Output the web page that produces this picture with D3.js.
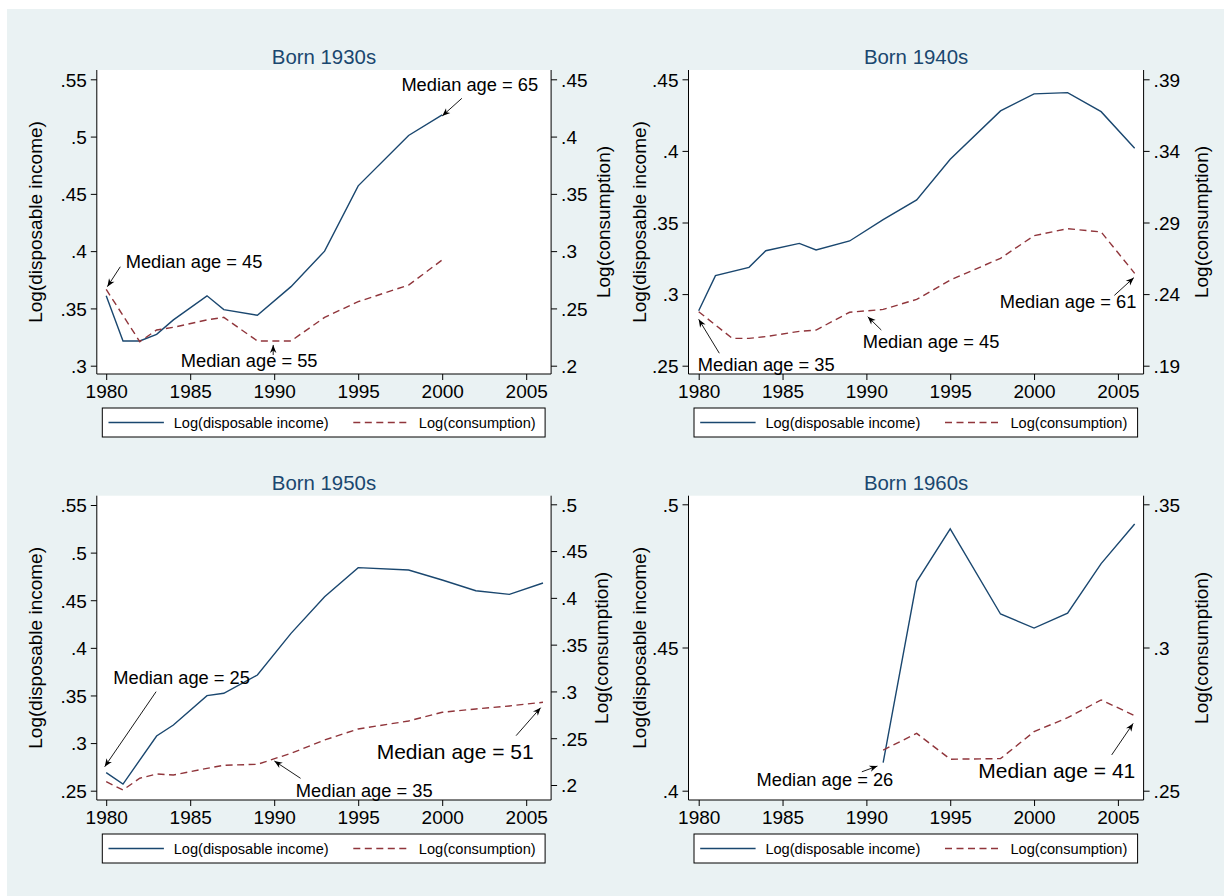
<!DOCTYPE html>
<html>
<head>
<meta charset="utf-8">
<script src="https://cdn.jsdelivr.net/npm/d3@7"></script>
<style>
  body { margin: 0; background: #ffffff; }
  text { font-family: "Liberation Sans", Arial, sans-serif; }
</style>
</head>
<body>
<div id="chart"></div>
<script>
// --- data ---
const xTicks = [1980, 1985, 1990, 1995, 2000, 2005];

// Born 1930s
const years30 = [1980, 1981, 1982, 1983, 1984, 1986, 1987, 1989, 1991, 1993, 1995, 1998, 2000];
const income30 = [.361, .3216, .3216, .3274, .340, .361, .349, .344, .369, .400, .457, .501, .519];
const consYears30 = [1980, 1982, 1983, 1984, 1986, 1987, 1989, 1991, 1993, 1995, 1998, 2000];
const cons30 = [.2666, .221, .2312, .2335, .240, .2422, .2216, .2216, .2422, .2559, .2704, .2923];
const leftTicks30 = [.3, .35, .4, .45, .5, .55];
const rightTicks30 = [.2, .25, .3, .35, .4, .45];
// label, text x, text y, arrow from x, y, arrow to x, y (data units, left axis)
const notes30 = [
    ["Median age = 45", 1981.16, .3853, 1980.84, .3864, 1980.07, .369],
    ["Median age = 55", 1984.44, .2985, 1989.94, .3093, 1989.94, .3181],
    ["Median age = 65", 1997.57, .540, 2001.17, .5334, 2000.0, .518]
];

// Born 1940s
const years40 = [1980, 1981, 1983, 1984, 1986, 1987, 1989, 1991, 1993, 1995, 1998, 2000, 2002, 2004, 2006];
const income40 = [.2884, .3129, .3187, .3303, .3354, .3308, .3371, .352, .3658, .3941, .4279, .4398, .4407, .4274, .4018];
const consYears40 = [1980, 1982, 1983, 1984, 1986, 1987, 1989, 1991, 1993, 1995, 1998, 2000, 2002, 2004, 2006];
const cons40 = [.2277, .2091, .2091, .2103, .214, .2149, .2273, .2293, .2363, .2498, .265, .2808, .2857, .2834, .2545];
const leftTicks40 = [.25, .3, .35, .4, .45];
const rightTicks40 = [.19, .24, .29, .34, .39];
const notes40 = [
    ["Median age = 35", 1979.95, .2465, 1981.23, .2587, 1980.0, .2824],
    ["Median age = 45", 1989.78, .2622, 1990.89, .2749, 1990.08, .2842],
    ["Median age = 61", 1997.95, .2901, 2004.79, .2991, 2005.95, .3115]
];

// Born 1950s
const years50 = [1980, 1981, 1983, 1984, 1986, 1987, 1989, 1991, 1993, 1995, 1998, 2000, 2002, 2004, 2006];
const income50 = [.2689, .257, .3074, .319, .3498, .3523, .3715, .4152, .4537, .4842, .4817, .4712, .460, .4562, .4681];
const consYears50 = [1980, 1981, 1982, 1983, 1984, 1986, 1987, 1989, 1991, 1993, 1995, 1998, 2000, 2002, 2004, 2006];
const cons50 = [.2035, .1947, .2072, .2118, .2107, .2178, .2211, .2221, .2339, .2481, .2599, .2684, .2777, .2813, .2845, .2884];
const leftTicks50 = [.25, .3, .35, .4, .45, .5, .55];
const rightTicks50 = [.2, .25, .3, .35, .4, .45, .5];
const notes50 = [
    ["Median age = 25", 1980.42, .3623, 1982.97, .354, 1979.91, .2752],
    ["Median age = 35", 1991.29, .2439, 1991.57, .263, 1990.01, .2812],
    ["Median age = 51", 1996.1, .2838, 2004.4, .3078, 2005.86, .3372]
];

// Born 1960s
const years60 = [1991, 1993, 1995, 1998, 2000, 2002, 2004, 2006];
const income60 = [.4098, .473, .4914, .4617, .4568, .462, .4793, .4931];
const consYears60 = [1991, 1993, 1995, 1998, 2000, 2002, 2004, 2006];
const cons60 = [.2642, .270, .261, .2612, .2706, .2755, .2817, .2762];
const leftTicks60 = [.4, .45, .5];
const rightTicks60 = [.25, .3, .35];
const notes60 = [
    ["Median age = 26", 1983.45, .4015, 1989.73, .4066, 1990.66, .4086],
    ["Median age = 41", 1996.67, .4043, 2004.63, .4125, 2005.91, .4235]
];

// --- styles ---
const navy = "#1a476f";
const maroon = "#90353b";
const bg = "#eaf2f3";
const fmt = v => d3.format(".2~f")(v).replace(/^0/, "");

const W = 1224, H = 896;
const svg = d3.select("#chart").append("svg")
    .attr("width", W)
    .attr("height", H);

svg.append("rect")
    .attr("x", 7).attr("y", 9)
    .attr("width", W - 7).attr("height", H - 9)
    .attr("fill", bg);

// plot frames (pixels) and tick ranges, per panel
const panels = [
    {
        title: "Born 1930s", years: years30, income: income30, consYears: consYears30, cons: cons30,
        lt: leftTicks30, rt: rightTicks30, notes: notes30, big: [],
        box: { l: 96.8, r: 551.1, t: 70, b: 374 }, xr: [106.2, 526.2],
        ly: [365.7, 79.3], ry: [365.7, 79.3], tl: 35.5, tr: 603
    },
    {
        title: "Born 1940s", years: years40, income: income40, consYears: consYears40, cons: cons40,
        lt: leftTicks40, rt: rightTicks40, notes: notes40, big: [],
        box: { l: 688.5, r: 1143.6, t: 70, b: 374 }, xr: [698.7, 1117.9],
        ly: [365.7, 79.3], ry: [365.7, 79.3], tl: 639.3, tr: 1201.4
    },
    {
        title: "Born 1950s", years: years50, income: income50, consYears: consYears50, cons: cons50,
        lt: leftTicks50, rt: rightTicks50, notes: notes50, big: [2],
        box: { l: 96.8, r: 551.1, t: 495.7, b: 800 }, xr: [106.2, 526.2],
        ly: [790.7, 505], ry: [785, 504.3], tl: 35.5, tr: 601
    },
    {
        title: "Born 1960s", years: years60, income: income60, consYears: consYears60, cons: cons60,
        lt: leftTicks60, rt: rightTicks60, notes: notes60, big: [1],
        box: { l: 688.5, r: 1143.6, t: 495.7, b: 800 }, xr: [698.7, 1117.9],
        ly: [790.7, 504.3], ry: [790.7, 504.3], tl: 639.3, tr: 1201.4
    }
];

panels.forEach(p => {
    const g = svg.append("g");
    const bx = p.box;

    const x = d3.scaleLinear().domain([xTicks[0], xTicks[xTicks.length - 1]]).range(p.xr);
    const yL = d3.scaleLinear().domain([p.lt[0], p.lt[p.lt.length - 1]]).range(p.ly);
    const yR = d3.scaleLinear().domain([p.rt[0], p.rt[p.rt.length - 1]]).range(p.ry);

    // white plot region
    g.append("rect")
        .attr("x", bx.l).attr("y", bx.t)
        .attr("width", bx.r - bx.l).attr("height", bx.b - bx.t)
        .attr("fill", "#ffffff");

    // axes
    const axL = g.append("g").attr("transform", `translate(${bx.l},0)`)
        .call(d3.axisLeft(yL).tickValues(p.lt).tickFormat(fmt).tickSize(6).tickPadding(4));
    const axR = g.append("g").attr("transform", `translate(${bx.r},0)`)
        .call(d3.axisRight(yR).tickValues(p.rt).tickFormat(fmt).tickSize(6).tickPadding(4));
    const axB = g.append("g").attr("transform", `translate(0,${bx.b})`)
        .call(d3.axisBottom(x).tickValues(xTicks).tickFormat(d3.format("d")).tickSize(6).tickPadding(5));

    [axL, axR, axB].forEach(a => {
        a.select(".domain").remove();
        a.selectAll("line").attr("stroke", "#000").attr("stroke-width", 1);
        a.selectAll("text")
            .attr("fill", "#000")
            .style("font-size", "19px")
            .style("font-family", "'Liberation Sans', Arial, sans-serif");
    });
    axL.selectAll("text").attr("dy", "0.36em");
    axR.selectAll("text").attr("dy", "0.36em");

    g.append("line").attr("x1", bx.l).attr("x2", bx.l).attr("y1", bx.t).attr("y2", bx.b)
        .attr("stroke", "#000").attr("stroke-width", 1);
    g.append("line").attr("x1", bx.r).attr("x2", bx.r).attr("y1", bx.t).attr("y2", bx.b)
        .attr("stroke", "#000").attr("stroke-width", 1);
    g.append("line").attr("x1", bx.l).attr("x2", bx.r).attr("y1", bx.b).attr("y2", bx.b)
        .attr("stroke", "#000").attr("stroke-width", 1);

    // axis titles
    const cy = (bx.t + bx.b) / 2;
    g.append("text")
        .attr("transform", `translate(${p.tl},${cy}) rotate(-90)`)
        .attr("text-anchor", "middle").attr("dominant-baseline", "central")
        .attr("font-size", 19)
        .text("Log(disposable income)");
    g.append("text")
        .attr("transform", `translate(${p.tr},${cy}) rotate(-90)`)
        .attr("text-anchor", "middle").attr("dominant-baseline", "central")
        .attr("font-size", 19)
        .text("Log(consumption)");

    // title
    g.append("text")
        .attr("x", (bx.l + bx.r) / 2).attr("y", bx.t - 6)
        .attr("text-anchor", "middle")
        .attr("font-size", 20.4)
        .attr("fill", navy)
        .text(p.title);

    // lines
    const lineL = d3.line().x(d => x(d[0])).y(d => yL(d[1]));
    const lineR = d3.line().x(d => x(d[0])).y(d => yR(d[1]));

    g.append("path")
        .attr("d", lineL(d3.zip(p.years, p.income)))
        .attr("fill", "none").attr("stroke", navy).attr("stroke-width", 1.4);
    g.append("path")
        .attr("d", lineR(d3.zip(p.consYears, p.cons)))
        .attr("fill", "none").attr("stroke", maroon).attr("stroke-width", 1.4)
        .attr("stroke-dasharray", "7,4.5");

    // annotations with arrows
    p.notes.forEach((n, i) => {
        const big = p.big.includes(i);
        g.append("text")
            .attr("x", x(n[1])).attr("y", yL(n[2]))
            .attr("font-size", big ? 21 : 18.3)
            .attr("fill", "#000")
            .text(n[0]);

        const x1 = x(n[3]), y1 = yL(n[4]), x2 = x(n[5]), y2 = yL(n[6]);
        g.append("line")
            .attr("x1", x1).attr("y1", y1).attr("x2", x2).attr("y2", y2)
            .attr("stroke", "#000").attr("stroke-width", 0.9);
        const a = Math.atan2(y2 - y1, x2 - x1);
        const len = 8, hw = 3.2;
        const bxp = x2 - len * Math.cos(a), byp = y2 - len * Math.sin(a);
        const px = -Math.sin(a) * hw, py = Math.cos(a) * hw;
        const nx = x2 - len * 0.7 * Math.cos(a), ny = y2 - len * 0.7 * Math.sin(a);
        g.append("path")
            .attr("d", `M${x2},${y2}L${bxp + px},${byp + py}L${nx},${ny}L${bxp - px},${byp - py}Z`)
            .attr("fill", "#000");
    });

    // legend
    const lx = bx.l + 5.5, lw = bx.r - bx.l - 11.5;
    const ly = bx.b + 34, lh = 29;
    const lg = g.append("g");
    lg.append("rect")
        .attr("x", lx).attr("y", ly).attr("width", lw).attr("height", lh)
        .attr("fill", "#ffffff").attr("stroke", "#000").attr("stroke-width", 1);
    const my = ly + lh / 2;
    lg.append("line").attr("x1", lx + 6.2).attr("x2", lx + 61.6).attr("y1", my).attr("y2", my)
        .attr("stroke", navy).attr("stroke-width", 1.4);
    lg.append("text").attr("x", lx + 71.4).attr("y", my).attr("dominant-baseline", "central")
        .attr("font-size", 14.6).text("Log(disposable income)");
    lg.append("line").attr("x1", lx + 251).attr("x2", lx + 307.5).attr("y1", my).attr("y2", my)
        .attr("stroke", maroon).attr("stroke-width", 1.4).attr("stroke-dasharray", "7,4.5");
    lg.append("text").attr("x", lx + 316.5).attr("y", my).attr("dominant-baseline", "central")
        .attr("font-size", 14.6).text("Log(consumption)");
});
</script>
</body>
</html>
